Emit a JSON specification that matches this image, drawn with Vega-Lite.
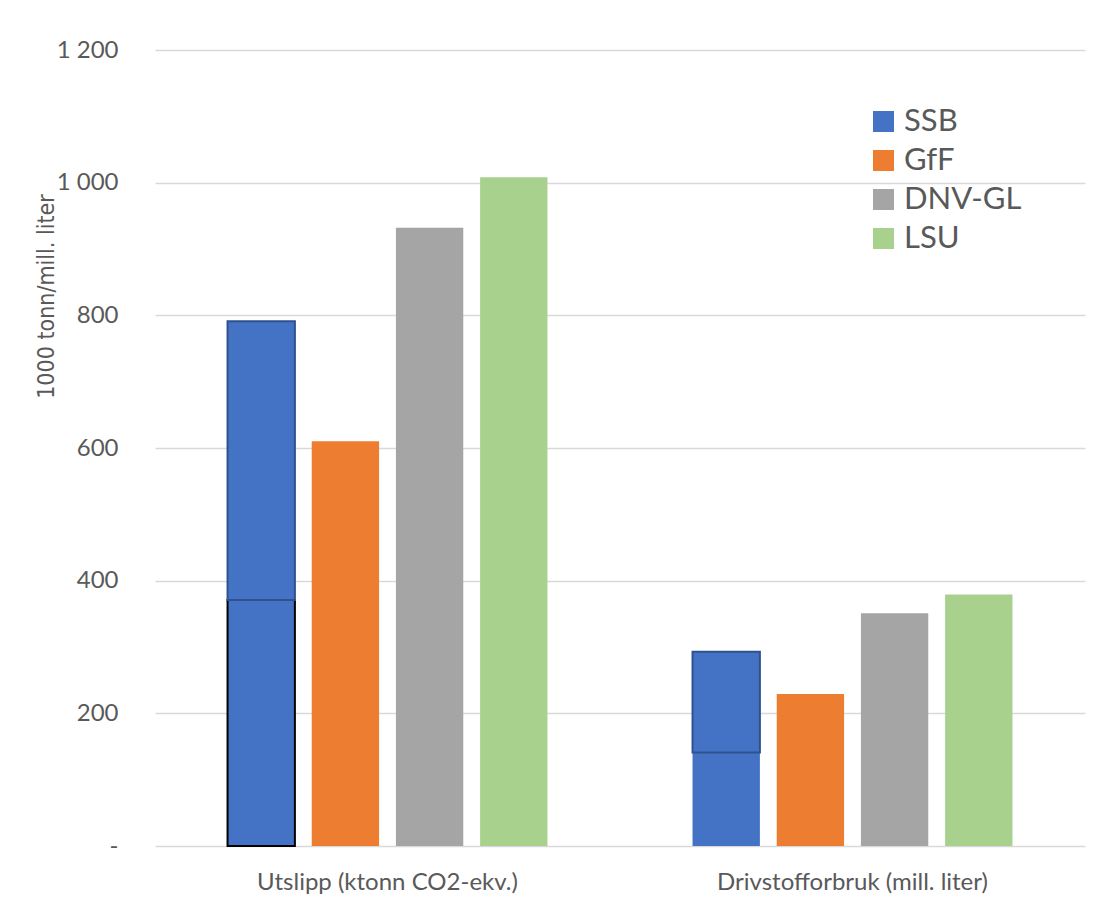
{
  "$schema": "https://vega.github.io/schema/vega-lite/v6.json",
  "autosize": {"type": "none"},
  "width": 930,
  "height": 796,
  "padding": {"left": 155, "top": 50, "right": 19, "bottom": 71},
  "background": "white",
  "config": {"view": {"stroke": null}, "font": "Lato"},
  "data": {
    "values": [
      {"category": "Utslipp (ktonn CO2-ekv.)", "series": "SSB", "start": 0, "end": 371},
      {"category": "Utslipp (ktonn CO2-ekv.)", "series": "SSB", "start": 371, "end": 791},
      {"category": "Utslipp (ktonn CO2-ekv.)", "series": "GfF", "start": 0, "end": 610},
      {"category": "Utslipp (ktonn CO2-ekv.)", "series": "DNV-GL", "start": 0, "end": 932},
      {"category": "Utslipp (ktonn CO2-ekv.)", "series": "LSU", "start": 0, "end": 1008},
      {"category": "Drivstofforbruk (mill. liter)", "series": "SSB", "start": 0, "end": 141},
      {"category": "Drivstofforbruk (mill. liter)", "series": "SSB", "start": 141, "end": 293},
      {"category": "Drivstofforbruk (mill. liter)", "series": "GfF", "start": 0, "end": 229},
      {"category": "Drivstofforbruk (mill. liter)", "series": "DNV-GL", "start": 0, "end": 351},
      {"category": "Drivstofforbruk (mill. liter)", "series": "LSU", "start": 0, "end": 379}
    ]
  },
  "mark": {"type": "bar", "strokeWidth": 2},
  "encoding": {
    "x": {
      "field": "category",
      "type": "nominal",
      "sort": ["Utslipp (ktonn CO2-ekv.)", "Drivstofforbruk (mill. liter)"],
      "scale": {"paddingInner": 0.312, "paddingOuter": 0.156},
      "axis": {
        "title": null,
        "labelAngle": 0,
        "labelFontSize": 24,
        "labelLimit": 0,
        "labelColor": "#595959",
        "labelPadding": 24,
        "ticks": false,
        "domain": false,
        "grid": false
      }
    },
    "xOffset": {
      "field": "series",
      "type": "nominal",
      "sort": ["SSB", "GfF", "DNV-GL", "LSU"],
      "scale": {"paddingInner": 0.2, "paddingOuter": 0}
    },
    "y": {
      "field": "end",
      "type": "quantitative",
      "scale": {"domain": [0, 1200]},
      "axis": {
        "title": "1000 tonn/mill. liter",
        "titleFont": "Liberation Sans Narrow, DejaVu Sans Condensed, Lato",
        "titleFontSize": 23,
        "titleFontWeight": "normal",
        "titleColor": "#595959",
        "titleX": -97,
        "titleY": 246,
        "values": [0, 200, 400, 600, 800, 1000, 1200],
        "labelExpr": "datum.value === 0 ? '-' : replace(format(datum.value, ','), ',', ' ')",
        "labelFontSize": 24,
        "labelColor": "#595959",
        "labelPadding": 37,
        "ticks": false,
        "domain": false,
        "grid": true,
        "gridColor": "#D9D9D9",
        "gridWidth": 1.5
      }
    },
    "y2": {"field": "start"},
    "fill": {
      "field": "series",
      "type": "nominal",
      "sort": ["SSB", "GfF", "DNV-GL", "LSU"],
      "scale": {
        "domain": ["SSB", "GfF", "DNV-GL", "LSU"],
        "range": ["#4472C4", "#ED7D31", "#A5A5A5", "#A9D18E"]
      },
      "legend": {
        "title": null,
        "orient": "none",
        "legendX": 713,
        "legendY": 56,
        "padding": 0,
        "symbolType": "square",
        "symbolSize": 441,
        "symbolStrokeWidth": 0,
        "labelFontSize": 31,
        "labelColor": "#595959",
        "labelOffset": 5,
        "rowPadding": 7
      }
    },
    "stroke": {
      "condition": [
        {"test": "datum.series === 'SSB' && datum.start > 0", "value": "#2F528F"},
        {"test": "datum.series === 'SSB' && datum.category === 'Utslipp (ktonn CO2-ekv.)'", "value": "#000000"}
      ],
      "value": "transparent"
    }
  }
}
